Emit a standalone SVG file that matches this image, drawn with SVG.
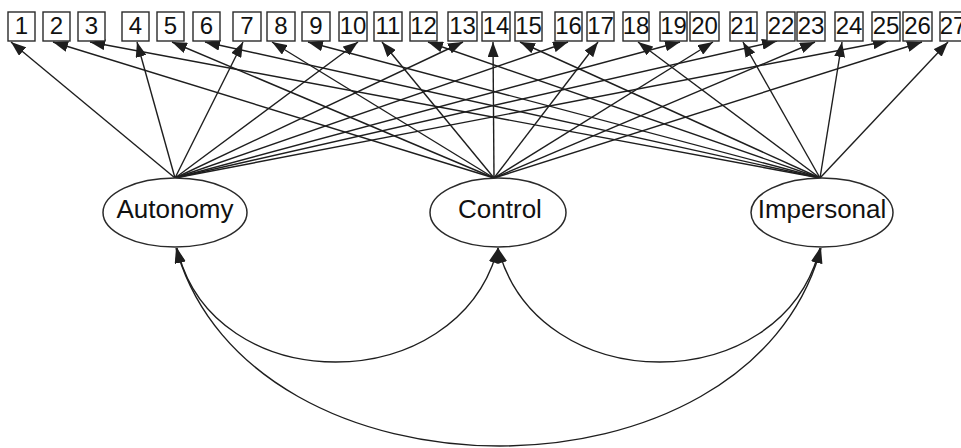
<svg xmlns="http://www.w3.org/2000/svg" width="961" height="448" viewBox="0 0 961 448">
  <defs>
    <marker id="head" viewBox="0 0 15 11" refX="15" refY="5.5" markerWidth="15" markerHeight="11" markerUnits="userSpaceOnUse" orient="auto-start-reverse">
      <path d="M0,0 L15,5.5 L0,11 z" fill="#1e1e1e"/>
    </marker>
    <style>
      .item rect { fill: #fff; stroke: #2a2a2a; stroke-width: 1.4; }
      .item text { font-family: "Liberation Sans", Arial, sans-serif; font-size: 24px; fill: #111; text-anchor: middle; }
      .factor ellipse { fill: #fff; stroke: #2a2a2a; stroke-width: 1.5; }
      .factor text { font-family: "Liberation Sans", Arial, sans-serif; font-size: 26px; fill: #111; text-anchor: middle; }
      .load line { stroke: #1e1e1e; stroke-width: 1.4; marker-end: url(#head); }
      .cov path { fill: none; stroke: #1e1e1e; stroke-width: 1.4; marker-start: url(#head); marker-end: url(#head); }
    </style>
  </defs>
  <rect width="961" height="448" fill="#fff"/>

  <!-- connectors: factor loadings and covariances -->
  <g id="connectors">
    <g class="load" id="loadings-autonomy">
      <line x1="175" y1="178" x2="11" y2="42"/>
      <line x1="175" y1="178" x2="137" y2="42"/>
      <line x1="175" y1="178" x2="243" y2="42"/>
      <line x1="175" y1="178" x2="358" y2="42"/>
      <line x1="175" y1="178" x2="463" y2="42"/>
      <line x1="175" y1="178" x2="568" y2="42"/>
      <line x1="175" y1="178" x2="680" y2="42"/>
      <line x1="175" y1="178" x2="777" y2="41"/>
      <line x1="175" y1="178" x2="888" y2="41"/>
    </g>
    <g class="load" id="loadings-control">
      <line x1="494" y1="178" x2="53" y2="42"/>
      <line x1="494" y1="178" x2="172" y2="42"/>
      <line x1="494" y1="178" x2="272" y2="42"/>
      <line x1="494" y1="178" x2="382" y2="42"/>
      <line x1="494" y1="178" x2="493" y2="42"/>
      <line x1="494" y1="178" x2="598" y2="42"/>
      <line x1="494" y1="178" x2="713" y2="42"/>
      <line x1="494" y1="178" x2="815" y2="42"/>
      <line x1="494" y1="178" x2="922" y2="42"/>
    </g>
    <g class="load" id="loadings-impersonal">
      <line x1="820" y1="178" x2="90" y2="42"/>
      <line x1="820" y1="178" x2="205" y2="42"/>
      <line x1="820" y1="178" x2="308" y2="42"/>
      <line x1="820" y1="178" x2="428" y2="42"/>
      <line x1="820" y1="178" x2="520" y2="42"/>
      <line x1="820" y1="178" x2="638" y2="42"/>
      <line x1="820" y1="178" x2="743" y2="42"/>
      <line x1="820" y1="178" x2="842" y2="42"/>
      <line x1="820" y1="178" x2="948" y2="42"/>
    </g>
    <g class="cov" id="covariances">
      <path d="M177,248 C212,400 458,400 498,248"/>
      <path d="M498,248 C538,400 782,400 820,248"/>
      <path d="M176,248 C250,512 750,512 821,248"/>
    </g>
  </g>

  <!-- observed items -->
  <g id="item1" class="item"><rect x="8" y="12" width="27" height="29"/><text x="21.5" y="34">1</text></g>
  <g id="item2" class="item"><rect x="43" y="12" width="27" height="29"/><text x="56.5" y="34">2</text></g>
  <g id="item3" class="item"><rect x="78" y="12" width="27" height="29"/><text x="91.5" y="34">3</text></g>
  <g id="item4" class="item"><rect x="122" y="12" width="27" height="29"/><text x="135.5" y="34">4</text></g>
  <g id="item5" class="item"><rect x="157" y="12" width="27" height="29"/><text x="170.5" y="34">5</text></g>
  <g id="item6" class="item"><rect x="193" y="12" width="27" height="29"/><text x="206.5" y="34">6</text></g>
  <g id="item7" class="item"><rect x="233" y="12" width="28" height="29"/><text x="247" y="34">7</text></g>
  <g id="item8" class="item"><rect x="267" y="12" width="28" height="29"/><text x="281" y="34">8</text></g>
  <g id="item9" class="item"><rect x="302" y="12" width="28" height="29"/><text x="316" y="34">9</text></g>
  <g id="item10" class="item"><rect x="339" y="12" width="28" height="29"/><text x="353" y="34">10</text></g>
  <g id="item11" class="item"><rect x="374" y="12" width="28" height="29"/><text x="388" y="34">11</text></g>
  <g id="item12" class="item"><rect x="410" y="12" width="27" height="29"/><text x="423.5" y="34">12</text></g>
  <g id="item13" class="item"><rect x="448" y="12" width="29" height="29"/><text x="462.5" y="34">13</text></g>
  <g id="item14" class="item"><rect x="482" y="12" width="28" height="29"/><text x="496" y="34">14</text></g>
  <g id="item15" class="item"><rect x="515" y="12" width="27" height="29"/><text x="528.5" y="34">15</text></g>
  <g id="item16" class="item"><rect x="555" y="12" width="27" height="29"/><text x="568.5" y="34">16</text></g>
  <g id="item17" class="item"><rect x="587" y="12" width="27" height="29"/><text x="600.5" y="34">17</text></g>
  <g id="item18" class="item"><rect x="623" y="12" width="26" height="29"/><text x="636" y="34">18</text></g>
  <g id="item19" class="item"><rect x="660" y="12" width="27" height="29"/><text x="673.5" y="34">19</text></g>
  <g id="item20" class="item"><rect x="690" y="12" width="29" height="29"/><text x="704.5" y="34">20</text></g>
  <g id="item21" class="item"><rect x="730" y="12" width="27" height="29"/><text x="743.5" y="34">21</text></g>
  <g id="item22" class="item"><rect x="767" y="12" width="28" height="29"/><text x="781" y="34">22</text></g>
  <g id="item23" class="item"><rect x="797" y="12" width="28" height="29"/><text x="811" y="34">23</text></g>
  <g id="item24" class="item"><rect x="835" y="12" width="28" height="29"/><text x="849" y="34">24</text></g>
  <g id="item25" class="item"><rect x="872" y="12" width="28" height="29"/><text x="886" y="34">25</text></g>
  <g id="item26" class="item"><rect x="903" y="12" width="29" height="29"/><text x="917.5" y="34">26</text></g>
  <g id="item27" class="item"><rect x="940" y="12" width="28" height="29"/><text x="953" y="34">27</text></g>

  <!-- latent factors -->
  <g id="autonomy" class="factor"><ellipse cx="175" cy="212.5" rx="72" ry="34.5"/><text x="175" y="218">Autonomy</text></g>
  <g id="control" class="factor"><ellipse cx="498" cy="212.5" rx="68" ry="34.5"/><text x="500" y="218">Control</text></g>
  <g id="impersonal" class="factor"><ellipse cx="822" cy="212.5" rx="71" ry="34.5"/><text x="822" y="218">Impersonal</text></g>
</svg>
